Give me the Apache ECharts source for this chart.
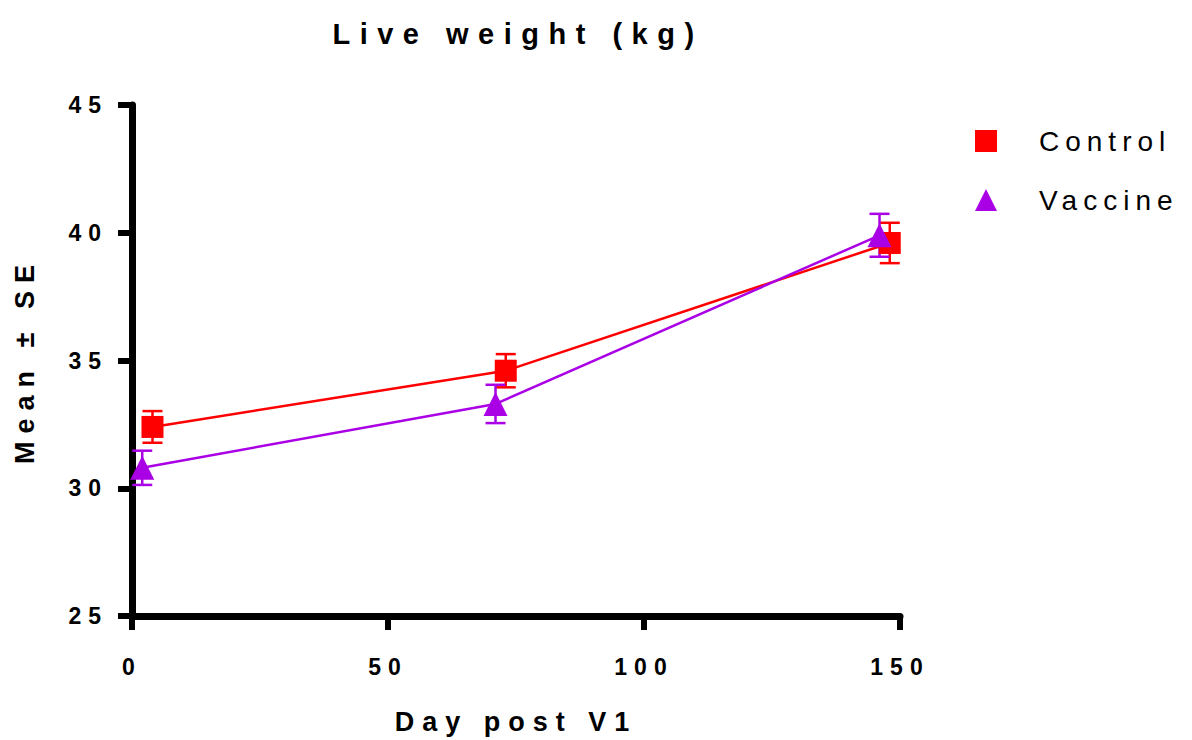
<!DOCTYPE html>
<html>
<head>
<meta charset="utf-8">
<script src="https://cdn.jsdelivr.net/npm/echarts@6/dist/echarts.min.js"></script>
<style>
  html, body { margin: 0; padding: 0; background: #fff; }
  #chart { width: 1192px; height: 740px; }
  #chart text { letter-spacing: 6px; }
  #chart text[style*="29px"] { letter-spacing: 9.5px; }
  #chart text[style*="27px"] { letter-spacing: 8px; }
  #chart text[style*="23px"] { letter-spacing: 7px; }
  #chart text[style*="28px"] { letter-spacing: 6px; }
</style>
</head>
<body>
<div id="chart"></div>
<script>
// ---- data ----
const seriesNames = ['Control', 'Vaccine'];
const controlDays = [4, 73, 148];
const controlMean = [32.4, 34.6, 39.6];
const controlSE = [0.62, 0.65, 0.79];
const vaccineDays = [2, 71, 146];
const vaccineMean = [30.8, 33.3, 39.9];
const vaccineSE = [0.67, 0.75, 0.84];
const xTicks = [0, 50, 100, 150];
const yTicks = [25, 30, 35, 40, 45];

const RED = '#FF0000';
const PURPLE = '#AA00E6';
const FONT = '"Liberation Sans", Arial, sans-serif';

function pts(days, vals) { return days.map((d, i) => [d, vals[i]]); }
function errData(days, vals, se) { return days.map((d, i) => [d, vals[i] - se[i], vals[i] + se[i]]); }

function errorSeries(name, data, color) {
  return {
    type: 'custom',
    name: name + ' SE',
    data: data,
    z: 1,
    silent: true,
    renderItem: function (params, api) {
      const x = api.value(0);
      const lo = api.coord([x, api.value(1)]);
      const hi = api.coord([x, api.value(2)]);
      const hw = 10;
      const style = { stroke: color, lineWidth: 2.5 };
      return {
        type: 'group',
        children: [
          { type: 'line', shape: { x1: lo[0], y1: lo[1], x2: hi[0], y2: hi[1] }, style: style },
          { type: 'line', shape: { x1: lo[0] - hw, y1: lo[1], x2: lo[0] + hw, y2: lo[1] }, style: style },
          { type: 'line', shape: { x1: hi[0] - hw, y1: hi[1], x2: hi[0] + hw, y2: hi[1] }, style: style }
        ]
      };
    }
  };
}

const chart = echarts.init(document.getElementById('chart'), null, { renderer: 'svg' });
chart.setOption({
  animation: false,
  backgroundColor: '#fff',
  title: {
    text: 'Live weight (kg)',
    left: 513,
    top: 14,
    textAlign: 'center',
    textStyle: { fontFamily: FONT, fontWeight: 'bold', fontSize: 29, color: '#000' }
  },
  legend: {
    orient: 'vertical',
    left: 970,
    top: 122,
    itemWidth: 22,
    itemHeight: 22,
    itemGap: 31,
    textStyle: { fontFamily: FONT, fontSize: 28, color: '#000', padding: [0, 0, 0, 37] },
    data: [
      { name: seriesNames[0], icon: 'rect' },
      { name: seriesNames[1], icon: 'triangle' }
    ]
  },
  grid: { left: 132, right: 292, top: 105, bottom: 122, containLabel: false },
  xAxis: {
    type: 'value',
    min: 0, max: 150, interval: 50,
    name: 'Day post V1',
    nameLocation: 'middle',
    nameGap: 92,
    nameTextStyle: { fontFamily: FONT, fontWeight: 'bold', fontSize: 27, color: '#000' },
    axisLine: { show: true, onZero: false, lineStyle: { color: '#000', width: 7 } },
    axisTick: { show: true, length: 14, lineStyle: { color: '#000', width: 6 } },
    axisLabel: {
      margin: 39, fontFamily: FONT, fontWeight: 'bold', fontSize: 23, color: '#000',
      formatter: v => xTicks.includes(v) ? String(v) : ''
    },
    splitLine: { show: false }
  },
  yAxis: {
    type: 'value',
    min: 25, max: 45, interval: 5,
    name: 'Mean ± SE',
    nameLocation: 'middle',
    nameGap: 94,
    nameRotate: 90,
    nameTextStyle: { fontFamily: FONT, fontWeight: 'bold', fontSize: 27, color: '#000' },
    axisLine: { show: true, onZero: false, lineStyle: { color: '#000', width: 7 } },
    axisTick: { show: true, length: 14, lineStyle: { color: '#000', width: 6 } },
    axisLabel: {
      margin: 24, fontFamily: FONT, fontWeight: 'bold', fontSize: 23, color: '#000',
      formatter: v => yTicks.includes(v) ? String(v) : ''
    },
    splitLine: { show: false }
  },
  series: [
    errorSeries(seriesNames[0], errData(controlDays, controlMean, controlSE), RED),
    errorSeries(seriesNames[1], errData(vaccineDays, vaccineMean, vaccineSE), PURPLE),
    {
      type: 'line', name: seriesNames[0], data: pts(controlDays, controlMean),
      symbol: 'rect', symbolSize: 22, z: 3,
      itemStyle: { color: RED }, lineStyle: { color: RED, width: 2.5 }
    },
    {
      type: 'line', name: seriesNames[1], data: pts(vaccineDays, vaccineMean),
      symbol: 'triangle', symbolSize: 24, z: 3,
      itemStyle: { color: PURPLE }, lineStyle: { color: PURPLE, width: 2.5 }
    }
  ]
});
</script>
</body>
</html>
